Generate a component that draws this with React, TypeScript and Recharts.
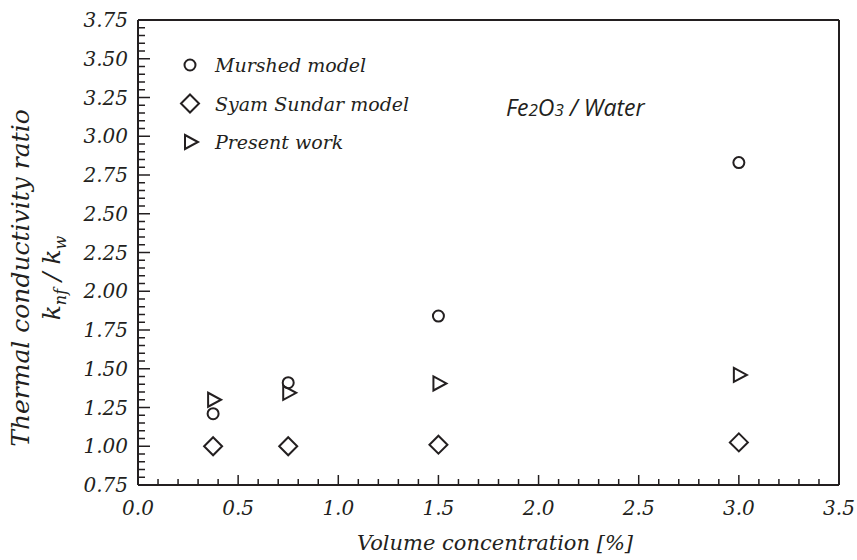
import React from "react";
import {
  ScatterChart,
  Scatter,
  XAxis,
  YAxis,
  ZAxis,
  ReferenceLine,
} from "recharts";

const concentrations = [0.375, 0.75, 1.5, 3.0];
const murshed = [1.21, 1.41, 1.84, 2.83];
const syamSundar = [1.0, 1.0, 1.01, 1.025];
const presentWork = [1.3, 1.345, 1.405, 1.46];

const xMajor = [0, 0.5, 1, 1.5, 2, 2.5, 3, 3.5];
const yMajor = [0.75, 1, 1.25, 1.5, 1.75, 2, 2.25, 2.5, 2.75, 3, 3.25, 3.5, 3.75];

// minor ticks every 0.1 on x, 0.05 on y
const xTicks: number[] = [];
for (let i = 0; i <= 35; i++) xTicks.push(+(i * 0.1).toFixed(2));
const yTicks: number[] = [];
for (let i = 0; i <= 60; i++) yTicks.push(+(0.75 + i * 0.05).toFixed(2));

const toPoints = (ys: number[]) => concentrations.map((x, i) => ({ x, y: ys[i] }));

const SERIF = "'DejaVu Serif', serif";
const INK = "#231f20";

const isMajor = (v: number, majors: number[]) => majors.some((m) => Math.abs(m - v) < 1e-6);

const XTick = ({ x, y, payload }: any) => {
  const major = isMajor(payload.value, xMajor);
  return (
    <g>
      <line x1={x} y1={y} x2={x} y2={y - (major ? 10 : 6)} stroke={INK} strokeWidth={1.5} />
      {major && (
        <text x={x} y={y + 30} textAnchor="middle" fontFamily={SERIF} fontStyle="italic" fontSize={20} fill={INK}>
          {payload.value.toFixed(1)}
        </text>
      )}
    </g>
  );
};

const YTick = ({ x, y, payload }: any) => {
  const major = isMajor(payload.value, yMajor);
  return (
    <g>
      <line x1={x} y1={y} x2={x + (major ? 12 : 7)} y2={y} stroke={INK} strokeWidth={1.5} />
      {major && (
        <text x={x - 10} y={y + 7} textAnchor="end" fontFamily={SERIF} fontStyle="italic" fontSize={20} fill={INK}>
          {payload.value.toFixed(2)}
        </text>
      )}
    </g>
  );
};

const CircleShape = ({ cx, cy }: any) => (
  <circle cx={cx} cy={cy} r={5.5} fill="none" stroke={INK} strokeWidth={2} />
);
const DiamondShape = ({ cx, cy }: any) => (
  <path d={`M${cx},${cy - 9} L${cx + 9},${cy} L${cx},${cy + 9} L${cx - 9},${cy} Z`} fill="none" stroke={INK} strokeWidth={2} />
);
const TriangleShape = ({ cx, cy }: any) => (
  <path d={`M${cx - 5},${cy - 7} L${cx + 8},${cy} L${cx - 5},${cy + 7} Z`} fill="none" stroke={INK} strokeWidth={2} />
);

const legendItems = [
  { name: "Murshed model", Shape: CircleShape },
  { name: "Syam Sundar model", Shape: DiamondShape },
  { name: "Present work", Shape: TriangleShape },
];

export default function App() {
  return (
    <div style={{ position: "absolute", left: 0, top: 0, width: 857, height: 560, background: "#fff" }}>
      <ScatterChart width={857} height={560} margin={{ top: 20, right: 18, bottom: 0, left: 0 }}>
        <XAxis
          type="number"
          dataKey="x"
          domain={[0, 3.5]}
          ticks={xTicks}
          interval={0}
          tick={<XTick />}
          tickLine={false}
          tickSize={0}
          tickMargin={0}
          stroke={INK}
          strokeWidth={2}
          height={75}
          allowDataOverflow
        />
        <YAxis
          type="number"
          dataKey="y"
          domain={[0.75, 3.75]}
          ticks={yTicks}
          interval={0}
          tick={<YTick />}
          tickLine={false}
          tickSize={0}
          tickMargin={0}
          stroke={INK}
          strokeWidth={2}
          width={138}
          allowDataOverflow
        />
        <ZAxis range={[100, 100]} />
        <ReferenceLine y={3.75} stroke={INK} strokeWidth={2} />
        <ReferenceLine x={3.5} stroke={INK} strokeWidth={2} />
        <Scatter name="Murshed model" data={toPoints(murshed)} shape={<CircleShape />} isAnimationActive={false} />
        <Scatter name="Syam Sundar model" data={toPoints(syamSundar)} shape={<DiamondShape />} isAnimationActive={false} />
        <Scatter name="Present work" data={toPoints(presentWork)} shape={<TriangleShape />} isAnimationActive={false} />
      </ScatterChart>
      <svg width={260} height={120} style={{ position: "absolute", left: 179, top: 51 }}>
        {legendItems.map((item, i) => (
          <g key={item.name}>
            <item.Shape cx={11} cy={14 + i * 38.5} />
            <text x={36} y={21 + i * 38.5} fontFamily={SERIF} fontStyle="italic" fontSize={19} fill={INK}>
              {item.name}
            </text>
          </g>
        ))}
      </svg>
      <div
        style={{
          position: "absolute",
          left: 506,
          top: 91,
          fontFamily: "'Open Sans', sans-serif",
          fontStyle: "italic",
          fontSize: 23,
          lineHeight: "32px",
          color: INK,
          whiteSpace: "nowrap",
        }}
      >
        Fe<span style={{ fontSize: 17 }}>2</span>O<span style={{ fontSize: 17 }}>3</span> / Water
      </div>
      <div
        style={{
          position: "absolute",
          left: 0,
          width: 990,
          top: 531,
          textAlign: "center",
          fontFamily: SERIF,
          fontStyle: "italic",
          fontSize: 21,
          color: INK,
          whiteSpace: "nowrap",
        }}
      >
        Volume concentration [%]
      </div>
      <div
        style={{
          position: "absolute",
          left: 40,
          top: 278,
          transform: "translate(-50%, -50%) rotate(-90deg)",
          fontFamily: SERIF,
          fontStyle: "italic",
          fontSize: 25,
          color: INK,
          whiteSpace: "nowrap",
          textAlign: "center",
          lineHeight: "31px",
        }}
      >
        <div>Thermal conductivity ratio</div>
        <div>
          k<sub style={{ fontSize: 16 }}>nf</sub> / k<sub style={{ fontSize: 16 }}>w</sub>
        </div>
      </div>
    </div>
  );
}
